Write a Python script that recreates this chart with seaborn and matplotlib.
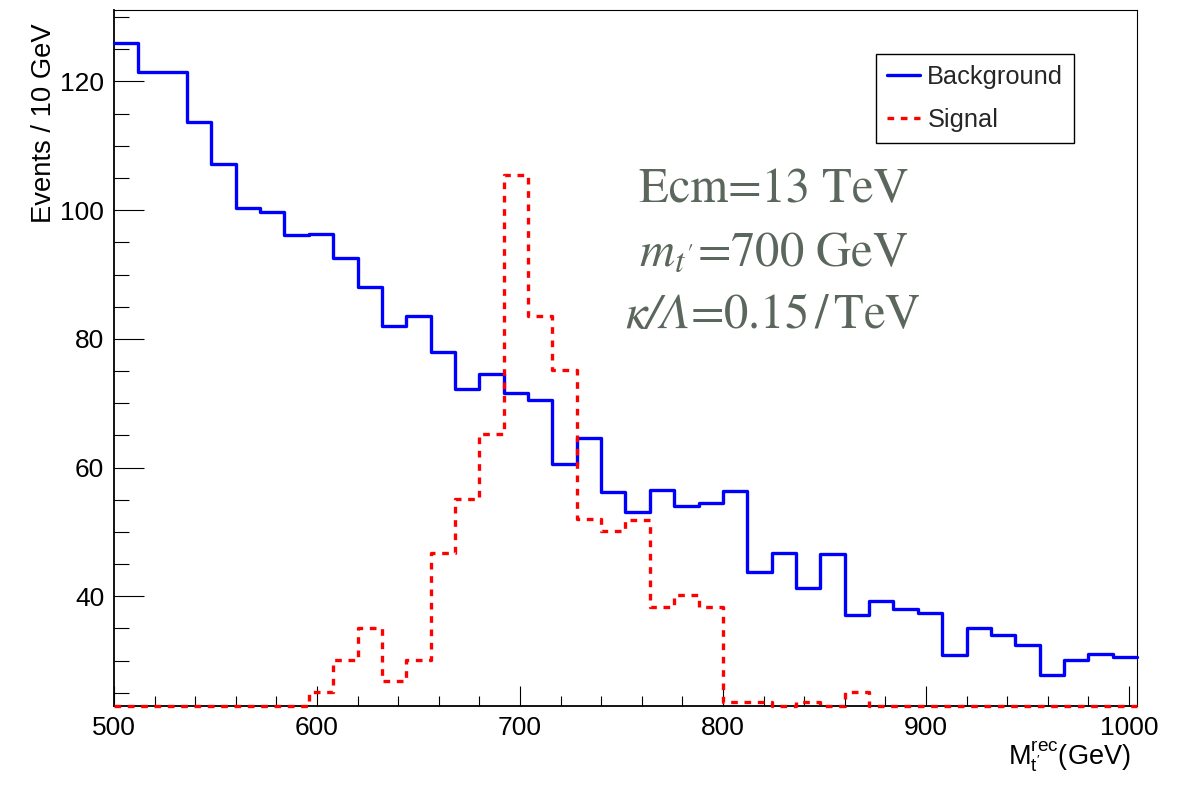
import numpy as np
import pandas as pd
import matplotlib
matplotlib.use("Agg")
import matplotlib.pyplot as plt
import seaborn as sns
from matplotlib.ticker import MultipleLocator

# Histogram binning (GeV)
bin_low = 500
bin_width = 12
n_bins = 42

# Events per bin, reconstructed t' mass
background = [125.9, 121.4, 121.4, 113.7, 107.1, 100.4, 99.7, 96.1, 96.3, 92.6,
              88.0, 82.0, 83.5, 77.9, 72.2, 74.5, 71.6, 70.5, 60.6, 64.6,
              56.2, 53.1, 56.5, 54.1, 54.5, 56.3, 43.8, 46.8, 41.3, 46.6,
              37.1, 39.3, 38.1, 37.4, 30.8, 35.1, 34.0, 32.5, 27.8, 30.1,
              31.0, 30.5]
signal = [0, 0, 0, 0, 0, 0, 0, 0, 25.1, 30.1,
          35.1, 26.8, 30.1, 46.7, 55.1, 65.2, 105.4, 83.6, 75.2, 52.0,
          50.1, 51.9, 38.4, 40.2, 38.4, 23.5, 23.5, 0, 23.5, 0,
          25.2, 0, 0, 0, 0, 0, 0, 0, 0, 0,
          0, 0]

series_labels = ["Background", "Signal"]

y_min, y_max = 22.95, 131.1

sns.set_theme(style="white")
plt.rcParams["font.family"] = ["Liberation Sans", "DejaVu Sans"]
plt.rcParams["mathtext.fontset"] = "stix"

x_lo = bin_low
x_hi = bin_low + bin_width * n_bins
centers = bin_low + bin_width * (np.arange(n_bins) + 0.5)

bkg_df = pd.DataFrame({"mass": centers, "events": np.asarray(background, dtype=float)})
# empty bins sit on the lower edge of the frame
sig_df = pd.DataFrame({"mass": centers,
                       "events": np.maximum(np.asarray(signal, dtype=float), y_min)})

fig = plt.figure(figsize=(11.87, 7.87), dpi=100)
ax = fig.add_axes([0.0960, 0.1029, 0.9579 - 0.0960, 0.9873 - 0.1029])

sns.histplot(data=bkg_df, x="mass", weights="events", bins=n_bins,
             binrange=(x_lo, x_hi), element="step", fill=False,
             color="#0000ff", linewidth=2.4, label=series_labels[0], ax=ax,
             clip_on=False, zorder=4)
sns.histplot(data=sig_df, x="mass", weights="events", bins=n_bins,
             binrange=(x_lo, x_hi), element="step", fill=False,
             color="#ff0000", linewidth=2.4, linestyle=(0, (2.0, 2.0)),
             label=series_labels[1], ax=ax, clip_on=False, zorder=5)

ax.set_xlim(x_lo, x_hi)
ax.set_ylim(y_min, y_max)

ax.xaxis.set_major_locator(MultipleLocator(100))
ax.xaxis.set_minor_locator(MultipleLocator(20))
ax.yaxis.set_major_locator(MultipleLocator(20))
ax.yaxis.set_minor_locator(MultipleLocator(5))
ax.tick_params(axis="both", which="both", direction="in", top=False, right=False,
               bottom=True, left=True, width=0.8, color="black",
               labelsize=19, labelcolor="black")
ax.tick_params(axis="y", which="major", length=21.6, pad=7)
ax.tick_params(axis="y", which="minor", length=10.8)
ax.tick_params(axis="x", which="major", length=14.4, pad=7)
ax.tick_params(axis="x", which="minor", length=7.2)

for side in ["left", "bottom"]:
    ax.spines[side].set_linewidth(1.3)
for side in ["top", "right"]:
    ax.spines[side].set_linewidth(0.8)
for sp in ax.spines.values():
    sp.set_color("black")
    sp.set_visible(True)

ax.set_ylabel("Events / 10 GeV", fontsize=19.7, loc="top", color="black")
ax.yaxis.set_label_coords(-0.056, 1 - 13 / 696)
ax.set_xlabel(r"$\mathregular{M_{t'}^{rec}}$(GeV)", fontsize=19.5, loc="right", color="black")
ax.xaxis.set_label_coords(0.994, -0.048)

leg = ax.legend(loc="upper right", bbox_to_anchor=(0.9384, 0.9368), borderaxespad=0,
                fontsize=18.3, frameon=True, fancybox=False, edgecolor="black",
                framealpha=1, borderpad=0.42, handlelength=1.3, handletextpad=0.28,
                labelspacing=0.77)
leg.get_frame().set_linewidth(1.0)

# model parameters written in the upper middle of the frame
info_style = dict(transform=ax.transAxes, va="baseline", fontsize=35,
                  color="#5b675c", family="STIXGeneral")
ax.text(0.645, 0.7246, "Ecm=13 TeV", ha="center", **info_style)
ax.text(0.645, 0.6336, r"$m_{t'}$=700 GeV", ha="center", **info_style)
ax.text(0.5635, 0.543, "\u03ba/\u039b", ha="right", style="italic", **info_style)
ax.text(0.5635, 0.543, r"=0.15$\,$/$\,$TeV", ha="left", **info_style)

fig.savefig("out.png", dpi=100)
